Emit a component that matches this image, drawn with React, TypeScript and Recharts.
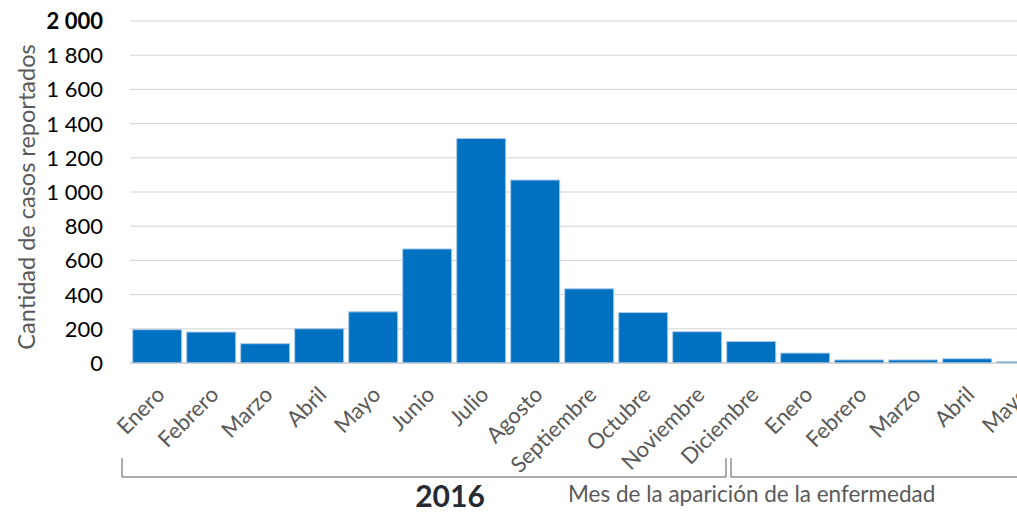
import React from 'react';
import { BarChart, Bar, XAxis, YAxis, CartesianGrid } from 'recharts';

const months = [
  'Enero', 'Febrero', 'Marzo', 'Abril', 'Mayo', 'Junio', 'Julio', 'Agosto',
  'Septiembre', 'Octubre', 'Noviembre', 'Diciembre',
  'Enero', 'Febrero', 'Marzo', 'Abril', 'Mayo'
];

const cases = [195, 181, 113, 200, 299, 667, 1313, 1070, 434, 295, 183, 126, 58, 18, 18, 25, 8];

const yTicks = [0, 200, 400, 600, 800, 1000, 1200, 1400, 1600, 1800, 2000];

const data = months.map((month, i) => ({ month, cases: cases[i] }));

const FONT = 'Lato, "Open Sans", sans-serif';

const fmt = (v: number) =>
  v >= 1000 ? `${Math.floor(v / 1000)} ${String(v % 1000).padStart(3, '0')}` : String(v);

const YTick = (props: any) => {
  const { x, y, payload } = props;
  return (
    <text
      x={x}
      y={y}
      dy="0.36em"
      textAnchor="end"
      fontFamily={FONT}
      fontSize={22}
      fontWeight={payload.value === 2000 ? 700 : 400}
      fill="#000"
    >
      {fmt(payload.value)}
    </text>
  );
};

const XTick = (props: any) => {
  const { x, y, payload } = props;
  const ax = x + 9;
  const ay = y + 33;
  return (
    <text
      x={ax}
      y={ay}
      textAnchor="end"
      transform={`rotate(-45, ${ax}, ${ay})`}
      fontFamily={FONT}
      fontSize={22}
      fill="#595959"
    >
      {payload.value}
    </text>
  );
};

export default function App() {
  return (
    <div
      style={{
        position: 'fixed',
        left: 0,
        top: 0,
        width: 1017,
        height: 512,
        overflow: 'hidden',
        background: '#fff'
      }}
    >
      <BarChart
        width={1060}
        height={512}
        data={data}
        margin={{ top: 21, right: 12, left: 0, bottom: 0 }}
        barCategoryGap="5%"
      >
        <CartesianGrid vertical={false} stroke="#d4d4d4" />
        <XAxis
          dataKey="month"
          interval={0}
          height={149}
          tickLine={false}
          tickSize={0}
          tickMargin={0}
          axisLine={{ stroke: '#c8c8c8' }}
          tick={<XTick />}
        />
        <YAxis
          width={130}
          domain={[0, 2000]}
          ticks={yTicks}
          axisLine={false}
          tickLine={false}
          tickSize={0}
          tickMargin={27}
          tick={<YTick />}
        />
        <Bar dataKey="cases" fill="#0070C0" stroke="#a9c9ea" strokeWidth={1} isAnimationActive={false} />
      </BarChart>
      <svg
        width={1017}
        height={512}
        style={{ position: 'absolute', left: 0, top: 0, pointerEvents: 'none' }}
      >
        <text
          x={35}
          y={197}
          textAnchor="middle"
          transform="rotate(-90, 35, 197)"
          fontFamily={FONT}
          fontSize={23.5}
          fill="#595959"
        >
          Cantidad de casos reportados
        </text>
        <path d="M122 458 V477 H726 V458" fill="none" stroke="#595959" strokeWidth={1} />
        <path d="M731 458 V477 H1017" fill="none" stroke="#595959" strokeWidth={1} />
        <text x={450} y={507} textAnchor="middle" fontFamily={FONT} fontSize={30} fontWeight={700} fill="#262a33">
          2016
        </text>
        <text x={568} y={502} fontFamily={FONT} fontSize={22.5} fill="#595959">
          Mes de la aparición de la enfermedad
        </text>
      </svg>
    </div>
  );
}
